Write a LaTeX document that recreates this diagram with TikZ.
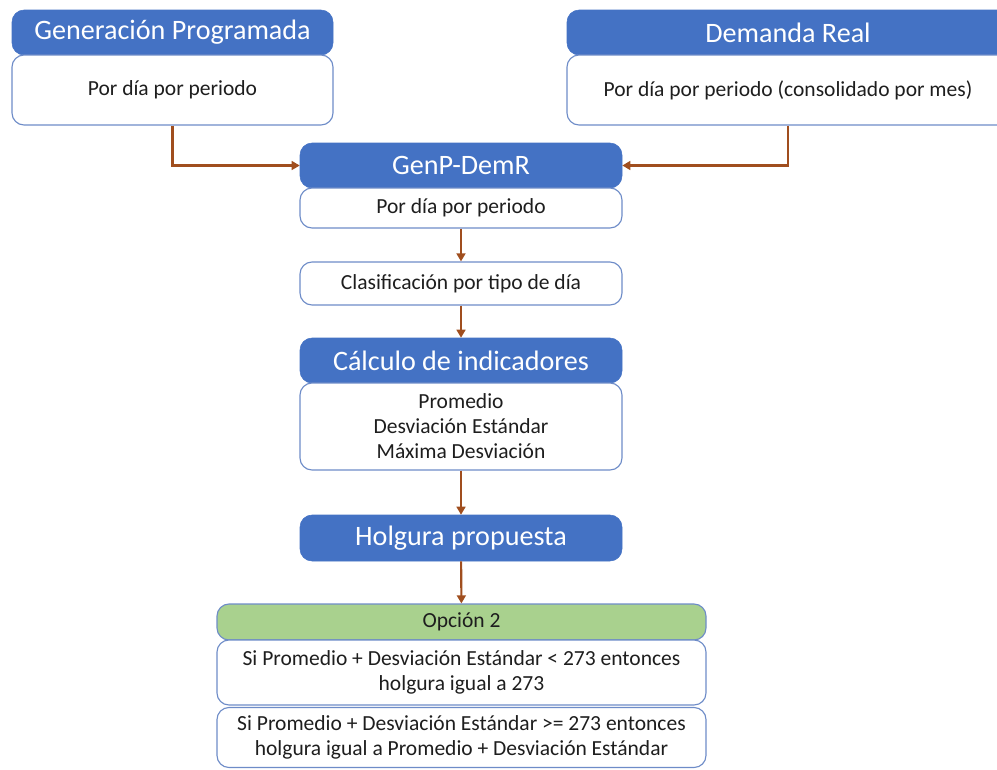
\documentclass[tikz,border=0pt]{standalone}
\usepackage{fontspec}
\setmainfont{Carlito}
\usetikzlibrary{arrows.meta,positioning}
\definecolor{hdblue}{RGB}{68,114,196}
\definecolor{bdblue}{RGB}{110,140,200}
\definecolor{optgreen}{RGB}{169,209,142}
\definecolor{flowbrown}{RGB}{160,78,30}
\definecolor{txtgray}{RGB}{30,30,30}
\tikzset{%
    >={Triangle[width=2.2mm,length=2mm]},
    % estilos de las cajas
    base/.style = {
        rectangle, rounded corners=3mm, align=center,
        inner sep=0pt
    },
    head/.style = {
        base, fill=hdblue, draw=hdblue, text=white,
        font=\fontsize{20}{23}\selectfont
    },
    body/.style = {
        base, fill=white, draw=bdblue, line width=0.8pt, text=txtgray,
        font=\fontsize{15.3}{17.8}\selectfont
    },
    opt/.style = {body, fill=optgreen},
    flow/.style = {->, draw=flowbrown, line width=1.5pt}
}
\begin{document}
\begin{tikzpicture}[x=0.025cm, y=-0.025cm]
    \clip (0,0) rectangle (997,769);
    % entradas
    \node[head, minimum width=321*0.025cm, minimum height=45*0.025cm] (gph) at (172.5,32.5) {Generación Programada};
    \node[body, minimum width=321*0.025cm, minimum height=70*0.025cm] (gpb) at (172.5,90) {Por día por periodo};
    \node[head, minimum width=442*0.025cm, minimum height=45*0.025cm] (drh) at (788,32.5) {Demanda Real};
    \node[body, minimum width=442*0.025cm, minimum height=70*0.025cm] (drb) at (788,90) {Por día por periodo (consolidado por mes)};
    % proceso
    \node[head, minimum width=322*0.025cm, minimum height=45*0.025cm] (gdh) at (461,165.5) {GenP-DemR};
    \node[body, minimum width=322*0.025cm, minimum height=40*0.025cm] (gdb) at (461,208) {Por día por periodo};
    \node[body, minimum width=322*0.025cm, minimum height=43*0.025cm] (clas) at (461,283.5) {Clasificación por tipo de día};
    \node[head, minimum width=322*0.025cm, minimum height=45*0.025cm] (calh) at (461,360.5) {Cálculo de indicadores};
    \node[body, minimum width=322*0.025cm, minimum height=87*0.025cm] (calb) at (461,426.5) {Promedio\\Desviación Estándar\\Máxima Desviación};
    \node[head, minimum width=322*0.025cm, minimum height=46*0.025cm] (holg) at (461,538) {Holgura propuesta};
    % opcion
    \node[opt, minimum width=489*0.025cm, minimum height=36*0.025cm] (opc) at (461.5,622) {Opción 2};
    \node[body, minimum width=489*0.025cm, minimum height=65*0.025cm] (si1) at (461.5,672.5) {Si Promedio + Desviación Estándar < 273 entonces\\holgura igual a 273};
    \node[body, minimum width=489*0.025cm, minimum height=60*0.025cm] (si2) at (461.5,737.5) {Si Promedio + Desviación Estándar >= 273 entonces\\holgura igual a Promedio + Desviación Estándar};
    % flechas
    \draw[flow] (gpb.south) |- (gdh.west);
    \draw[flow] (drb.south) |- (gdh.east);
    \draw[flow] (gdb) -- (clas);
    \draw[flow] (clas) -- (calh);
    \draw[flow] (calb) -- (holg);
    \draw[flow] (holg) -- (opc);
\end{tikzpicture}
\end{document}
